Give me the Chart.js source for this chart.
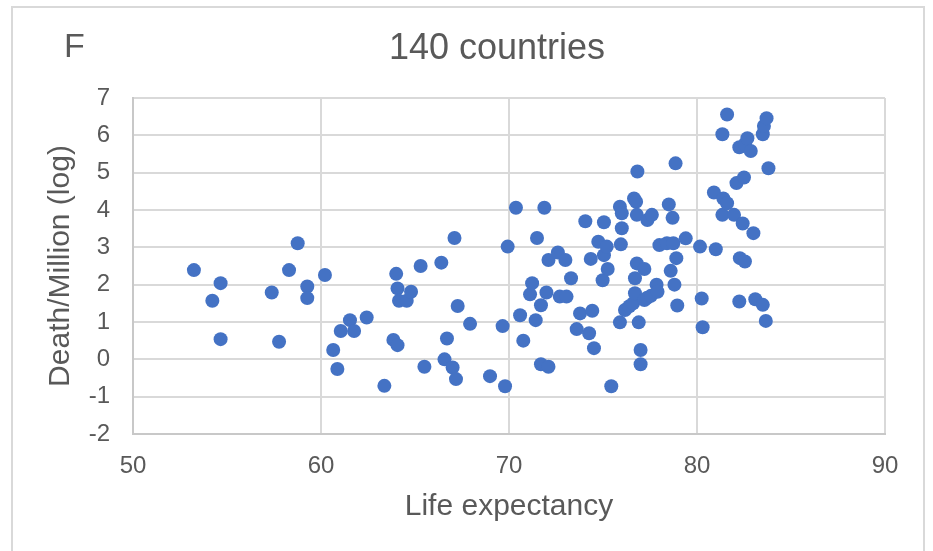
<!DOCTYPE html>
<html>
<head>
<meta charset="utf-8">
<script src="https://cdn.jsdelivr.net/npm/chart.js@4"></script>
<style>
  html, body { margin: 0; padding: 0; background: #fff; }
  #wrap { position: relative; width: 933px; height: 551px; }
  #frame { position: absolute; left: 11px; top: 6px; width: 914px; height: 560px; border: 2px solid #d9d9d9; box-sizing: border-box; }
  #tag { position: absolute; left: 64px; top: 26px; font: 34px "Liberation Sans", Arial, sans-serif; color: #595959; }
  #titel { position: absolute; left: 297px; width: 400px; top: 26px; text-align: center; font: 36px "Liberation Sans", Arial, sans-serif; color: #595959; }
  canvas { position: absolute; left: 0; top: 0; }
</style>
</head>
<body>
<div id="wrap">
  <div id="frame"></div>
  <canvas id="grafik" width="933" height="551"></canvas>
  <div id="tag">F</div>
  <div id="titel">140 countries</div>
</div>
<script>
// life expectancy (x) and log deaths per million (y)
const lifeExpectancy = [
  53.24, 54.22, 54.66, 54.66, 57.38, 57.77, 58.3, 58.76, 59.27, 59.27,
  60.21, 60.65, 60.87, 61.05, 61.54, 61.76, 62.43, 63.37, 63.85, 64.0,
  64.07, 64.07, 64.15, 64.56, 64.79, 65.3, 65.5, 66.4, 66.57, 66.7,
  67.0, 67.1, 67.18, 67.27, 67.93, 68.99, 69.66, 69.79, 69.93, 70.37,
  70.59, 70.76, 71.12, 71.23, 71.42, 71.49, 71.7, 71.7, 71.88, 71.99,
  72.1, 72.1, 72.6, 72.7, 73.0, 73.06, 73.3, 73.6, 73.78, 74.06,
  74.26, 74.35, 74.43, 74.52, 74.75, 74.98, 75.05, 75.05, 75.2, 75.25,
  75.44, 75.9, 76.0, 76.0, 75.95, 75.9, 76.17, 76.4, 76.6, 76.65,
  76.76, 76.83, 76.8, 76.7, 76.8, 76.7, 76.9, 77.0, 77.0, 77.2,
  77.2, 77.35, 77.36, 77.55, 77.6, 77.85, 77.9, 78.0, 78.4, 78.5,
  78.6, 78.7, 78.74, 78.8, 78.86, 78.9, 78.95, 79.4, 80.16, 80.25,
  80.3, 80.9, 81.0, 81.35, 81.35, 81.4, 81.6, 81.6, 81.97, 82.1,
  82.25, 82.25, 82.28, 82.43, 82.5, 82.55, 82.55, 82.68, 82.86, 83.0,
  83.1, 83.5, 83.5, 83.56, 83.66, 83.7, 83.8
];
const deathsLog = [
  2.39, 1.57, 2.04, 0.54, 1.79, 0.47, 2.39, 3.11, 1.95, 1.64,
  2.26, 0.25, -0.26, 0.76, 1.05, 0.76, 1.12, -0.71, 0.52, 2.29,
  1.90, 0.38, 1.57, 1.57, 1.81, 2.5, -0.2, 2.59, 0.0, 0.56,
  -0.22, 3.25, -0.53, 1.43, 0.95, -0.45, 0.89, -0.72, 3.02, 4.06,
  1.18, 0.5, 1.74, 2.04, 1.05, 3.25, 1.45, -0.13, 4.06, 1.79,
  2.66, -0.2, 2.86, 1.68, 2.66, 1.68, 2.17, 0.81, 1.23, 3.70,
  0.70, 2.69, 1.30, 0.30, 3.15, 2.12, 3.67, 2.79, 3.02, 2.42,
  -0.72, 4.09, 3.91, 3.51, 3.08, 0.99, 1.32, 1.42, 1.50, 4.31,
  4.22, 5.03, 3.87, 2.17, 2.57, 1.77, 0.99, 0.25, -0.13, 2.42,
  1.59, 1.65, 3.73, 1.70, 3.87, 2.0, 1.81, 3.06, 3.11, 4.15,
  2.37, 3.79, 3.11, 2.0, 5.25, 2.71, 1.44, 3.24, 3.02, 1.63,
  0.86, 4.47, 2.95, 6.03, 3.87, 4.31, 6.56, 4.18, 3.87, 4.72,
  5.68, 1.55, 2.71, 3.64, 4.87, 5.76, 2.62, 5.92, 5.58, 3.38,
  1.61, 6.03, 1.46, 6.25, 1.03, 6.46, 5.12
];
const xTicks = [50, 60, 70, 80, 90];
const yTicks = [-2, -1, 0, 1, 2, 3, 4, 5, 6, 7];

const punkte = lifeExpectancy.map((x, i) => ({ x: x, y: deathsLog[i] }));
const fontName = '"Liberation Sans", Arial, sans-serif';
const grau = '#595959';

let myChart = new Chart(document.getElementById('grafik'), {
    type: 'scatter',
    data: {
        datasets: [{
            label: '140 countries',
            data: punkte,
            backgroundColor: '#4472C4',
            borderWidth: 0,
            pointRadius: 7,
            pointHoverRadius: 7
        }]
    },
    options: {
        responsive: false,
        animation: false,
        events: [],
        layout: {
            padding: { left: 0, right: 48, top: 98, bottom: 0 }
        },
        plugins: {
            legend: { display: false },
            tooltip: { enabled: false },
            title: { display: false }
        },
        scales: {
            x: {
                type: 'linear',
                min: 50,
                max: 90,
                afterBuildTicks: (axis) => { axis.ticks = xTicks.map(v => ({ value: v })); },
                afterFit: (axis) => { axis.height = 117; },
                grid: { color: '#d9d9d9', lineWidth: 2, drawTicks: false },
                border: { color: '#c8c8c8', width: 2 },
                ticks: {
                    color: grau,
                    padding: 18,
                    maxRotation: 0,
                    font: { family: fontName, size: 24 }
                },
                title: {
                    display: true,
                    text: 'Life expectancy',
                    color: grau,
                    font: { family: fontName, size: 30 },
                    padding: { top: 4, bottom: 26 }
                }
            },
            y: {
                type: 'linear',
                min: -2,
                max: 7,
                afterBuildTicks: (axis) => { axis.ticks = yTicks.map(v => ({ value: v })); },
                afterFit: (axis) => { axis.width = 133; },
                grid: { color: '#d9d9d9', lineWidth: 2, drawTicks: false },
                border: { color: '#c8c8c8', width: 2 },
                ticks: {
                    color: grau,
                    padding: 23,
                    font: { family: fontName, size: 24 }
                },
                title: {
                    display: true,
                    text: 'Death/Million (log)',
                    color: grau,
                    font: { family: fontName, size: 30 },
                    padding: { top: 43, bottom: 0 }
                }
            }
        }
    }
});
</script>
</body>
</html>
